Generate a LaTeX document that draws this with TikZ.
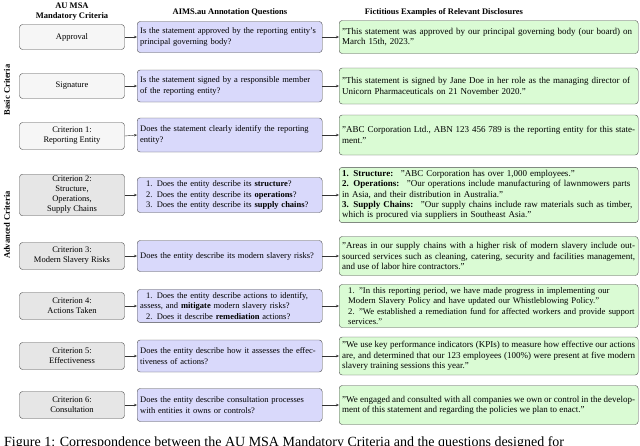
\documentclass[tikz,border=0pt]{standalone}
\usepackage{fontspec}
\setmainfont{Liberation Serif}
\usetikzlibrary{arrows.meta}
\definecolor{lgray}{HTML}{F6F6F6}
\definecolor{dgray}{HTML}{E6E6E6}
\definecolor{qblue}{HTML}{D9D9FB}
\definecolor{egreen}{HTML}{DAFBD4}
\newcommand{\q}{\char34 }
\begin{document}
\begin{tikzpicture}[x=1pt,y=-1pt,
  crit/.style={draw=black!70,rounded corners=3pt,minimum width=105pt,minimum height=27pt,align=center,font=\fontsize{8.5}{10}\selectfont,inner sep=2pt},
  ques/.style={draw=black!70,rounded corners=3pt,minimum width=185pt,text width=179pt,align=left,fill=qblue,font=\fontsize{8.5}{10.5}\selectfont,inner sep=3pt,anchor=west},
  expl/.style={draw=black!70,rounded corners=3pt,minimum width=299pt,text width=293pt,align=justify,fill=egreen,font=\fontsize{9}{10.3}\selectfont,inner sep=3pt,anchor=west},
  hdr/.style={font=\bfseries\fontsize{8.5}{10}\selectfont,align=center},
  arr/.style={-{Stealth[length=3pt,width=2.5pt]},black!80,thin}]
\useasboundingbox (0,0) rectangle (640,445);
\node[hdr] (h1) at (72,12) {AU MSA\\Mandatory Criteria};
\node[hdr] (h2) at (230,12) {AIMS.au Annotation Questions};
\node[hdr] (h3) at (444,12) {Fictitious Examples of Relevant Disclosures};
\node[hdr,rotate=90] (b) at (7,90) {Basic Criteria};
\node[hdr,rotate=90] (a) at (7,225) {Advanced Criteria};
% row 1
\node[crit,fill=lgray,minimum height=25pt] (c1) at (72,37) {Approval};
\node[ques,minimum height=31pt] (q1) at (137,37) {Is the statement approved by the reporting entity's principal governing body?};
\node[expl,minimum height=33pt,align=left] (e1) at (339,37) {\q This statement was approved by our principal governing body (our board) on March 15th, 2023.\q};
% row 2
\node[crit,fill=lgray,minimum height=25pt] (c2) at (72,86) {Signature};
\node[ques,minimum height=32pt] (q2) at (137,86) {Is the statement signed by a responsible member of the reporting entity?};
\node[expl,minimum height=36pt,align=left] (e2) at (339,86) {\q This statement is signed by Jane Doe in her role as the managing director of Unicorn Pharmaceuticals on 21 November 2020.\q};
% row 3
\node[crit,fill=lgray] (c3) at (72,136) {Criterion 1:\\Reporting Entity};
\node[ques,minimum height=34pt] (q3) at (137,135) {Does the statement clearly identify the reporting entity?};
\node[expl,minimum height=40pt] (e3) at (339,135) {\q ABC Corporation Ltd., ABN 123 456 789 is the reporting entity for this statement.\q};
% row 4
\node[crit,fill=dgray,minimum height=41pt] (c4) at (72,195) {Criterion 2:\\Structure,\\Operations,\\Supply Chains};
\node[ques,minimum height=35pt] (q4) at (137,195) {\hspace*{6pt}1. Does the entity describe its \textbf{structure}?\\\hspace*{6pt}2. Does the entity describe its \textbf{operations}?\\\hspace*{6pt}3. Does the entity describe its \textbf{supply chains}?};
\node[expl,minimum height=47pt,align=left] (e4) at (339,195) {\textbf{1. Structure:} ~\q ABC Corporation has over 1,000 employees.\q\\\textbf{2. Operations:} ~\q Our operations include manufacturing of lawnmowers parts in Asia, and their distribution in Australia.\q\\\textbf{3. Supply Chains:} ~\q Our supply chains include raw materials such as timber, which is procured via suppliers in Southeast Asia.\q};
% row 5
\node[crit,fill=dgray] (c5) at (72,256) {Criterion 3:\\Modern Slavery Risks};
\node[ques,minimum height=31pt] (q5) at (137,256) {Does the entity describe its modern slavery risks?};
\node[expl,minimum height=39pt] (e5) at (339,256) {\q Areas in our supply chains with a higher risk of modern slavery include outsourced services such as cleaning, catering, security and facilities management, and use of labor hire contractors.\q};
% row 6
\node[crit,fill=dgray] (c6) at (72,306) {Criterion 4:\\Actions Taken};
\node[ques,minimum height=32pt] (q6) at (137,306) {\hspace*{6pt}1. Does the entity describe actions to identify, assess, and \textbf{mitigate} modern slavery risks?\\\hspace*{6pt}2. Does it describe \textbf{remediation} actions?};
\node[expl,minimum height=43pt,align=left,font=\fontsize{8.7}{10.3}\selectfont] (e6) at (339,306) {\hspace*{6pt}1. \q In this reporting period, we have made progress in implementing our\\\hspace*{6pt}Modern Slavery Policy and have updated our Whistleblowing Policy.\q\\\hspace*{6pt}2. \q We established a remediation fund for affected workers and provide support\\\hspace*{6pt}services.\q};
% row 7
\node[crit,fill=dgray] (c7) at (72,356) {Criterion 5:\\Effectiveness};
\node[ques,minimum height=32pt] (q7) at (137,356) {Does the entity describe how it assesses the effectiveness of actions?};
\node[expl,minimum height=38pt] (e7) at (339,356) {\q We use key performance indicators (KPIs) to measure how effective our actions are, and determined that our 123 employees (100\%) were present at five modern slavery training sessions this year.\q};
% row 8
\node[crit,fill=dgray] (c8) at (72,405) {Criterion 6:\\Consultation};
\node[ques,minimum height=33pt] (q8) at (137,405) {Does the entity describe consultation processes with entities it owns or controls?};
\node[expl,minimum height=39pt] (e8) at (339,405) {\q We engaged and consulted with all companies we own or control in the development of this statement and regarding the policies we plan to enact.\q};
\foreach \i in {1,...,8}{
  \draw[arr] (c\i.east) -- (q\i.west);
  \draw[arr] (q\i.east) -- (e\i.west);
}
\node[anchor=north west,font=\fontsize{14}{16}\selectfont,inner sep=0pt] (cap) at (4,436) {Figure 1: Correspondence between the AU MSA Mandatory Criteria and the questions designed for};
\end{tikzpicture}
\end{document}
